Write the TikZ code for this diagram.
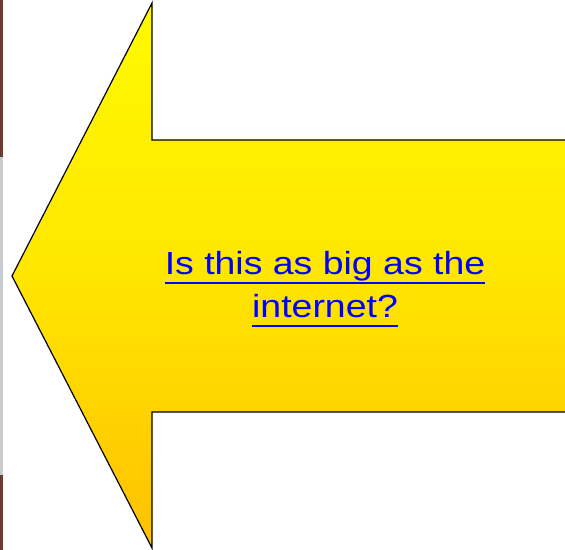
\documentclass[tikz,border=0pt]{standalone}
\usepackage{fontspec}
\setmainfont{Liberation Sans}
\usepackage{xcolor}
\definecolor{goldtop}{RGB}{255,250,0}
\definecolor{goldmid}{RGB}{255,230,0}
\definecolor{goldbot}{RGB}{255,192,0}
\definecolor{linkblue}{RGB}{0,0,255}
\definecolor{photobrown}{RGB}{112,58,48}
\definecolor{photogray}{RGB}{200,204,208}
\newcommand{\linkline}[1]{\setbox0\hbox{#1}\rlap{\rule[-7.2pt]{\wd0}{1.7pt}}\box0}

\begin{document}
\begin{tikzpicture}[
  x=0.75pt, y=-0.75pt,
  bigarrow/.style={draw=black, line width=0.9pt, line join=miter,
    top color=goldtop, bottom color=goldbot, middle color=goldmid},
  link/.style={text=linkblue, align=center, font=\fontsize{24}{32.2}\selectfont, xscale=1.17},
]
\useasboundingbox (0,0) rectangle (565,550);
% photo edge on the left
\fill[photobrown] (0,0) rectangle (3,157);
\fill[photogray] (0,157) rectangle (3,475);
\fill[photobrown] (0,475) rectangle (3,550);
% arrow
\begin{scope}
\clip (0,0) rectangle (565,550);
\shade[bigarrow] (12,276) -- (152,3) -- (152,140) -- (580,140)
  -- (580,412) -- (152,412) -- (152,548) -- cycle;
\end{scope}
% label
\node[link] (question) at (325,289.5) {\linkline{Is this as big as the}\\\linkline{internet?}};
\end{tikzpicture}
\end{document}
